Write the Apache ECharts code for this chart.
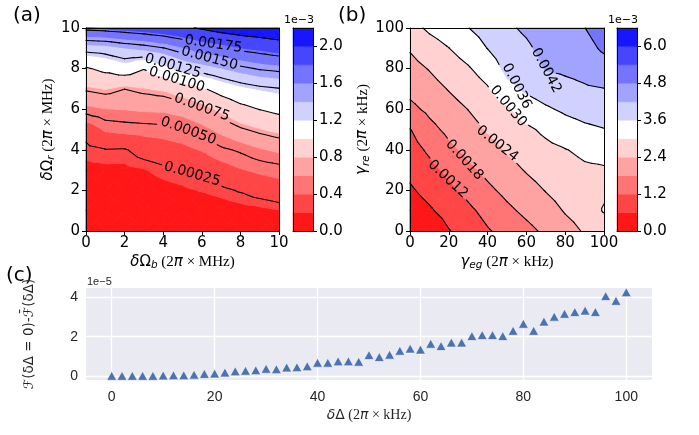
<!DOCTYPE html>
<html><head><meta charset="utf-8">
<script src="https://cdn.jsdelivr.net/npm/echarts@6/dist/echarts.min.js"></script>
<style>html,body{margin:0;padding:0;background:#fff}#c{width:699px;height:435px}</style>
</head><body><div id="c"></div>
<script>
// ---------------- DATA ----------------
// Panel (a): delta Omega_b (x) vs delta Omega_r (y), values in units of 1e-3
const xA = [0,1,2,3,4,5,6,7,8,9,10];
const yA = [0,1,2,3,4,5,6,7,8,9,10];
const zA = [
  [0.05,0.055,0.06,0.065,0.07,0.075,0.08,0.085,0.09,0.095,0.10],
  [0.09,0.095,0.10,0.11,0.12,0.13,0.14,0.155,0.165,0.175,0.195],
  [0.14,0.14,0.14,0.155,0.17,0.185,0.205,0.225,0.26,0.30,0.33],
  [0.18,0.18,0.18,0.195,0.225,0.245,0.29,0.34,0.39,0.425,0.45],
  [0.22,0.245,0.24,0.30,0.33,0.36,0.41,0.475,0.52,0.585,0.625],
  [0.30,0.42,0.44,0.45,0.46,0.49,0.555,0.64,0.73,0.79,0.84],
  [0.56,0.595,0.605,0.62,0.625,0.66,0.73,0.84,0.94,1.005,1.055],
  [0.77,0.805,0.752,0.79,0.82,0.89,0.975,1.08,1.16,1.21,1.24],
  [0.98,1.05,1.12,1.01,1.125,1.265,1.32,1.39,1.46,1.515,1.545],
  [1.31,1.33,1.39,1.43,1.49,1.58,1.68,1.73,1.79,1.83,1.875],
  [1.80,1.82,1.85,1.88,1.92,1.97,2.02,2.08,2.12,2.15,2.18]
];
const fillLevelsA = [0,0.2,0.4,0.6,0.8,1.0,1.2,1.4,1.6,1.8,2.0,2.2];
const lineLevelsA = [0.25,0.5,0.75,1.0,1.25,1.5,1.75,2.0];
const cbarTicksA = [0,0.4,0.8,1.2,1.6,2.0];
const labelsA = [
  {text:'0.00175', x:6.6, y:9.2, rot:-8},
  {text:'0.00150', x:6.4, y:8.5, rot:-15},
  {text:'0.00125', x:4.5, y:8.12, rot:-16},
  {text:'0.00100', x:4.7, y:7.45, rot:-17},
  {text:'0.00075', x:6.0, y:6.08, rot:-20},
  {text:'0.00050', x:5.3, y:4.93, rot:-20},
  {text:'0.00025', x:5.5, y:2.8, rot:-16}
];

// Panel (b): gamma_eg (x) vs gamma_re (y), values in units of 1e-3
const xB = [0,10,20,30,40,50,60,70,80,90,100];
const yB = [0,10,20,30,40,50,60,70,80,90,100];
const zB = [
  [0.05,0.15,0.57,0.85,1.15,1.38,1.64,1.91,2.20,2.45,2.60],
  [0.28,0.525,0.82,1.08,1.38,1.68,1.93,2.17,2.44,2.62,3.05],
  [0.52,0.79,1.06,1.36,1.68,1.95,2.19,2.42,2.62,2.80,2.90],
  [0.74,1.03,1.33,1.67,1.95,2.20,2.44,2.64,2.80,2.92,2.95],
  [0.96,1.30,1.67,1.94,2.20,2.45,2.67,2.85,2.98,3.11,3.17],
  [1.18,1.63,1.94,2.17,2.45,2.68,2.89,3.12,3.34,3.49,3.58],
  [1.65,1.93,2.18,2.41,2.70,2.91,3.30,3.52,3.70,3.82,3.90],
  [1.97,2.18,2.43,2.67,2.95,3.45,3.70,3.90,4.03,4.14,4.19],
  [2.20,2.43,2.71,2.945,3.27,3.74,3.90,4.23,4.30,4.37,4.53],
  [2.45,2.75,2.99,3.27,3.61,3.92,4.10,4.39,4.50,4.59,4.90],
  [2.80,3.10,3.30,3.59,3.83,4.10,4.30,4.55,4.70,4.79,5.10]
];
const fillLevelsB = [0,0.6,1.2,1.8,2.4,3.0,3.6,4.2,4.8,5.4,6.0,6.6];
const lineLevelsB = [0.6,1.2,1.8,2.4,3.0,3.6,4.2,4.8];
const cbarTicksB = [0,1.2,2.4,3.6,4.8,6.0];
const labelsB = [
  {text:'0.0012', x:19.5, y:25.5, rot:-43},
  {text:'0.0018', x:28, y:35, rot:-48},
  {text:'0.0024', x:45, y:43, rot:-38},
  {text:'0.0030', x:50.6, y:61.5, rot:-50},
  {text:'0.0036', x:55, y:71.3, rot:-63},
  {text:'0.0042', x:70.2, y:79, rot:-62}
];

// Panel (c): detuning deltaDelta (2pi x kHz) vs fidelity difference (units of 1e-5)
const deltaDelta = [0,2,4,6,8,10,12,14,16,18,20,22,24,26,28,30,32,34,36,38,40,42,44,46,48,50,52,54,56,58,60,62,64,66,68,70,72,74,76,78,80,82,84,86,88,90,92,94,96,98,100];
const fidelityDiff = [0,0,0,0,0,0.02,0.03,0.03,0.06,0.1,0.12,0.17,0.23,0.26,0.29,0.36,0.34,0.43,0.44,0.49,0.67,0.67,0.74,0.74,0.72,1.06,0.96,1.08,1.28,1.39,1.34,1.64,1.52,1.7,1.7,2.03,2.08,2.08,2.03,2.3,2.66,2.3,2.77,3.02,3.17,3.26,3.33,3.26,4.07,3.83,4.27];
const xTicksC = [0,20,40,60,80,100];
const yTicksC = [0,2,4];

// ---------------- HELPERS ----------------
const SANS = '"DejaVu Sans"';
function bwrR(t){ const s = 1 - t; let r,g,b;
  if (s < 0.5){ r = 2*s; g = 2*s; b = 1; } else { r = 1; g = 2*(1-s); b = 2*(1-s); }
  return 'rgb(' + Math.round(r*255) + ',' + Math.round(g*255) + ',' + Math.round(b*255) + ')'; }
function bandColors(levels){ const n = levels.length - 1, lo = levels[0], hi = levels[n];
  return levels.slice(0,-1).map((l,k) => bwrR(((l + levels[k+1]) / 2 - lo) / (hi - lo))); }
const colorsA = bandColors(fillLevelsA), colorsB = bandColors(fillLevelsB);

const mctx = document.createElement('canvas').getContext('2d');
function measure(text, font){ mctx.font = font; return mctx.measureText(text).width; }

function clip(poly, level, keepAbove){
  const out = [], n = poly.length;
  for (let i = 0; i < n; i++){
    const a = poly[i], b = poly[(i+1)%n];
    const ain = keepAbove ? a[2] >= level : a[2] <= level;
    const bin = keepAbove ? b[2] >= level : b[2] <= level;
    if (ain) out.push(a);
    if (ain !== bin){ const t = (level - a[2]) / (b[2] - a[2]);
      out.push([a[0] + t*(b[0]-a[0]), a[1] + t*(b[1]-a[1]), level]); }
  }
  return out;
}
function gridPoints(xs, ys, zs){ const out = [];
  for (let j = 0; j < ys.length-1; j++) for (let i = 0; i < xs.length-1; i++) out.push([xs[i], ys[j], zs[j][i], i, j]);
  return out; }

const LABEL_FS = 14;
const LABEL_FONT = LABEL_FS + 'px ' + SANS;

function segmentPieces(A, B, boxes){
  let pieces = [[A, B]];
  for (const bx of boxes){
    const next = [];
    for (const [P, Q] of pieces){
      const c = Math.cos(bx.r), s = Math.sin(bx.r);
      const loc = p => { const dx = p[0]-bx.cx, dy = p[1]-bx.cy; return [dx*c - dy*s, dx*s + dy*c]; };
      const p = loc(P), q = loc(Q), d = [q[0]-p[0], q[1]-p[1]];
      let t0 = 0, t1 = 1, hit = true;
      const lim = [bx.hw, bx.hh];
      for (let k = 0; k < 2 && hit; k++){
        if (Math.abs(d[k]) < 1e-9){ if (Math.abs(p[k]) > lim[k]) hit = false; }
        else { let ta = (-lim[k]-p[k]) / d[k], tb = (lim[k]-p[k]) / d[k];
          if (ta > tb){ const tmp = ta; ta = tb; tb = tmp; }
          t0 = Math.max(t0, ta); t1 = Math.min(t1, tb); if (t0 >= t1) hit = false; }
      }
      if (!hit){ next.push([P, Q]); continue; }
      const at = t => [P[0] + t*(Q[0]-P[0]), P[1] + t*(Q[1]-P[1])];
      if (t0 > 0) next.push([P, at(t0)]);
      if (t1 < 1) next.push([at(t1), Q]);
    }
    pieces = next;
  }
  return pieces;
}

function contourRender(xs, ys, zs, fillLevels, colors, lineLevels, labels){
  return function(params, api){
    const i = api.value(3), j = api.value(4);
    const P = (ii, jj) => [xs[ii], ys[jj], zs[jj][ii]];
    const p0 = P(i,j), p1 = P(i+1,j), p2 = P(i+1,j+1), p3 = P(i,j+1);
    const c = [(p0[0]+p1[0])/2, (p0[1]+p3[1])/2, (p0[2]+p1[2]+p2[2]+p3[2])/4];
    const tris = [[p0,p1,c],[p1,p2,c],[p2,p3,c],[p3,p0,c]];
    const boxes = labels.map(l => { const q = api.coord([l.x, l.y]);
      return {cx:q[0], cy:q[1], r:l.rot*Math.PI/180, hw: measure(l.text, LABEL_FONT)/2 + 3, hh: LABEL_FS*0.55}; });
    const children = [];
    for (const t of tris){
      for (let b = 0; b < fillLevels.length-1; b++){
        let poly = clip(t, fillLevels[b], true); if (poly.length < 3) continue;
        poly = clip(poly, fillLevels[b+1], false); if (poly.length < 3) continue;
        children.push({type:'polygon', silent:true, z2:1,
          shape:{points: poly.map(p => api.coord([p[0], p[1]]))},
          style:{fill:colors[b], stroke:colors[b], lineWidth:1}});
      }
      for (const L of lineLevels){
        const pts = [];
        for (let e = 0; e < 3; e++){ const a = t[e], bb = t[(e+1)%3];
          if ((a[2] < L && bb[2] >= L) || (a[2] >= L && bb[2] < L)){
            const s = (L - a[2]) / (bb[2] - a[2]);
            pts.push(api.coord([a[0] + s*(bb[0]-a[0]), a[1] + s*(bb[1]-a[1])])); } }
        if (pts.length === 2){
          for (const seg of segmentPieces(pts[0], pts[1], boxes))
            children.push({type:'line', silent:true, z2:10,
              shape:{x1:seg[0][0], y1:seg[0][1], x2:seg[1][0], y2:seg[1][1]},
              style:{stroke:'#000', lineWidth:1.1, lineCap:'round'}});
        }
      }
    }
    return {type:'group', children};
  };
}
function labelRender(labels){
  return function(params, api){ const l = labels[params.dataIndex]; const p = api.coord([l.x, l.y]);
    return {type:'text', x:p[0], y:p[1], rotation:l.rot*Math.PI/180, silent:true,
      style:{text:l.text, font:LABEL_FONT, fill:'#000', align:'center', verticalAlign:'middle'}}; };
}
function cbarRender(levels, colors){
  return function(params, api){ const lo = api.value(1), hi = api.value(3), k = api.value(4);
    const a = api.coord([0, lo]), b = api.coord([1, hi]);
    return {type:'rect', silent:true, shape:{x:a[0], y:b[1], width:b[0]-a[0], height:a[1]-b[1]},
      style:{fill:colors[k], stroke:colors[k], lineWidth:0.5}}; };
}
function bands(levels){ return levels.slice(0,-1).map((lo,k) => [0, lo, 1, levels[k+1], k]); }

// ---------------- AXES ----------------
const TICK_FS = 15;
const richName = fs => ({
  m:{fontFamily:SANS, fontStyle:'italic', fontSize:fs},
  u:{fontFamily:SANS, fontSize:fs},
  s:{fontFamily:SANS, fontStyle:'italic', fontSize:fs*0.7, padding:[fs*0.45,0,0,0]},
  n:{fontFamily:'"Liberation Serif"', fontSize:fs}
});
function mainX(gi, min, max, interval, name){
  return {gridIndex:gi, type:'value', min, max, interval, position:'bottom', z:10,
    axisLine:{show:true, onZero:false, lineStyle:{color:'#000', width:1}},
    axisTick:{show:true, inside:false, length:4, lineStyle:{color:'#000'}},
    axisLabel:{show:true, color:'#000', fontFamily:SANS, fontSize:TICK_FS, margin:5},
    splitLine:{show:false}, name, nameLocation:'middle', nameGap:22,
    nameTextStyle:{color:'#000', fontSize:15, rich:richName(15)}};
}
function mainY(gi, min, max, interval, name, gap){
  return {gridIndex:gi, type:'value', min, max, interval, position:'left', z:10,
    axisLine:{show:true, onZero:false, lineStyle:{color:'#000', width:1}},
    axisTick:{show:true, inside:false, length:4, lineStyle:{color:'#000'}},
    axisLabel:{show:true, color:'#000', fontFamily:SANS, fontSize:TICK_FS, margin:6},
    splitLine:{show:false}, name, nameLocation:'middle', nameGap:gap,
    nameTextStyle:{color:'#000', fontSize:15, rich:richName(15)}};
}
function frame(gi, pos, min, max){
  return {gridIndex:gi, type:'value', min, max, position:pos, z:10,
    axisLine:{show:true, onZero:false, lineStyle:{color:'#000', width:1}},
    axisTick:{show:false}, axisLabel:{show:false}, splitLine:{show:false}};
}
function cbarY(gi, max, ticks){
  return {gridIndex:gi, type:'value', min:0, max, position:'right', z:10,
    axisLine:{show:true, onZero:false, lineStyle:{color:'#000', width:1}},
    axisTick:{show:true, length:4, customValues:ticks, lineStyle:{color:'#000'}},
    axisLabel:{show:true, customValues:ticks, color:'#000', fontFamily:SANS, fontSize:TICK_FS, margin:6,
      formatter: v => v.toFixed(1)},
    splitLine:{show:false}};
}

const nameAx = '{m|δ}{u|Ω}{s|b}{n| (2}{m|π}{n| × MHz)}';
const nameAy = '{m|δ}{u|Ω}{s|r}{n| (2}{m|π}{n| × MHz)}';
const nameBx = '{m|γ}{s|eg}{n| (2}{m|π}{n| × kHz)}';
const nameBy = '{m|γ}{s|re}{n| (2}{m|π}{n| × kHz)}';
const nameCx = '{m|δ}{u|Δ}{n| (2}{m|π}{n| × kHz)}';

const grids = [
  {left:86, top:28, width:193, height:203, outerBoundsMode:'none'},
  {left:293, top:28, width:20, height:203, outerBoundsMode:'none'},
  {left:410, top:28, width:194, height:203, outerBoundsMode:'none'},
  {left:617, top:28, width:20, height:203, outerBoundsMode:'none'},
  {left:86, top:288, width:566, height:92, show:true, backgroundColor:'#EAEAF2', borderWidth:0, outerBoundsMode:'none'}
];
const xAxes = [
  mainX(0, 0, 10, 2, nameAx), frame(0, 'top', 0, 10),
  frame(1, 'bottom', 0, 1), frame(1, 'top', 0, 1),
  mainX(2, 0, 100, 20, nameBx), frame(2, 'top', 0, 100),
  frame(3, 'bottom', 0, 1), frame(3, 'top', 0, 1),
  {gridIndex:4, type:'value', min:-5, max:105, position:'bottom',
    axisLine:{show:false}, axisTick:{show:false}, splitLine:{show:false},
    axisLabel:{show:true, customValues:xTicksC, color:'#262626', fontFamily:'"Liberation Sans"', fontSize:14, margin:10},
    name:nameCx, nameLocation:'middle', nameGap:28, nameTextStyle:{color:'#262626', fontSize:14, rich:richName(14)}}
];
const yAxes = [
  mainY(0, 0, 10, 2, nameAy, 24), frame(0, 'right', 0, 10),
  cbarY(1, 2.2, cbarTicksA), frame(1, 'left', 0, 2.2),
  mainY(2, 0, 100, 20, nameBy, 31), frame(2, 'right', 0, 100),
  cbarY(3, 6.6, cbarTicksB), frame(3, 'left', 0, 6.6),
  {gridIndex:4, type:'value', min:-0.214, max:4.484, position:'left',
    axisLine:{show:false}, axisTick:{show:false}, splitLine:{show:false},
    axisLabel:{show:true, customValues:yTicksC, color:'#262626', fontFamily:'"Liberation Sans"', fontSize:14, margin:8},
    name:'ℱ(δΔ = 0)-ℱ\u0304(δΔ)', nameLocation:'middle', nameGap:50,
    nameTextStyle:{color:'#262626', fontFamily:SANS, fontSize:13.5}}
];

const series = [
  {type:'custom', xAxisIndex:0, yAxisIndex:0, z:2, data:gridPoints(xA, yA, zA),
    renderItem:contourRender(xA, yA, zA, fillLevelsA, colorsA, lineLevelsA, labelsA)},
  {type:'custom', xAxisIndex:0, yAxisIndex:0, z:3, data:labelsA.map(l => [l.x, l.y]), renderItem:labelRender(labelsA)},
  {type:'custom', xAxisIndex:2, yAxisIndex:2, z:2, data:bands(fillLevelsA), renderItem:cbarRender(fillLevelsA, colorsA)},
  {type:'custom', xAxisIndex:4, yAxisIndex:4, z:2, data:gridPoints(xB, yB, zB),
    renderItem:contourRender(xB, yB, zB, fillLevelsB, colorsB, lineLevelsB, labelsB)},
  {type:'custom', xAxisIndex:4, yAxisIndex:4, z:3, data:labelsB.map(l => [l.x, l.y]), renderItem:labelRender(labelsB)},
  {type:'custom', xAxisIndex:6, yAxisIndex:6, z:2, data:bands(fillLevelsB), renderItem:cbarRender(fillLevelsB, colorsB)},
  {type:'scatter', xAxisIndex:8, yAxisIndex:8, z:1, data:[], silent:true,
    markLine:{silent:true, symbol:['none','none'], label:{show:false}, animation:false,
      lineStyle:{color:'#ffffff', width:1.3, type:'solid'},
      data:[...xTicksC.map(v => ({xAxis:v})), ...yTicksC.map(v => ({yAxis:v}))]}},
  {type:'scatter', xAxisIndex:8, yAxisIndex:8, z:10, symbol:'triangle', symbolSize:[10,9],
    itemStyle:{color:'#4C72B0', borderColor:'#ffffff', borderWidth:0.6, opacity:1},
    data:deltaDelta.map((x,k) => [x, fidelityDiff[k]])}
];

const graphic = [
  {type:'text', left:13, top:6, style:{text:'(a)', font:'20px ' + SANS, fill:'#000'}},
  {type:'text', left:338, top:6, style:{text:'(b)', font:'20px ' + SANS, fill:'#000'}},
  {type:'text', left:6, top:266, style:{text:'(c)', font:'20px ' + SANS, fill:'#000'}},
  {type:'text', left:284, top:15, style:{text:'1e\u22123', font:'11px ' + SANS, fill:'#000'}},
  {type:'text', left:608, top:15, style:{text:'1e\u22123', font:'11px ' + SANS, fill:'#000'}},
  {type:'text', left:87, top:276, style:{text:'1e\u22125', font:'11px "Liberation Sans"', fill:'#262626'}}
];

const chart = echarts.init(document.getElementById('c'), null, {renderer:'canvas', width:699, height:435});
chart.setOption({animation:false, backgroundColor:'#fff', grid:grids, xAxis:xAxes, yAxis:yAxes, series, graphic});
</script></body></html>
